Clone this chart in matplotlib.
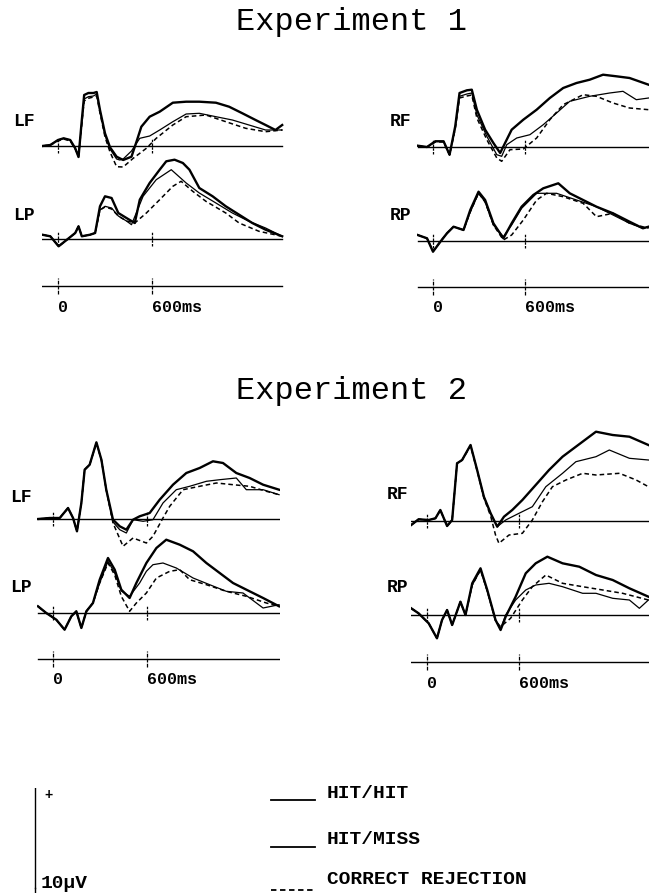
import matplotlib
matplotlib.use("Agg")
import matplotlib.pyplot as plt

# =====================================
# Data : ERP waveforms (time ms, amplitude uV)
# =====================================

# Experiment 1 - left frontal
e1_lf_hh = [(-101, 0.0), (-49, 0.1), (0, 0.6), (36, 0.77), (78, 0.6), (110, -0.23), (131, -1.1),
            (152, 2.6), (167, 5.1), (194, 5.3), (226, 5.3), (247, 5.4), (268, 3.6), (300, 1.27),
            (332, -0.13), (374, -1.07), (416, -1.4), (469, -1.07), (501, 0.43), (532, 1.93),
            (585, 2.93), (649, 3.43), (733, 4.33), (818, 4.43), (902, 4.43), (1008, 4.33),
            (1092, 3.93), (1177, 3.27), (1261, 2.6), (1325, 2.1), (1388, 1.6), (1431, 2.1)]
e1_lf_hm = [(-101, 0.0), (-49, 0.1), (0, 0.6), (36, 0.77), (78, 0.6), (110, -0.23), (131, -1.1),
            (152, 2.3), (167, 4.7), (194, 4.93), (226, 5.0), (247, 5.2), (268, 3.5), (300, 1.1),
            (332, -0.3), (374, -1.3), (394, -1.4), (416, -1.3), (469, -0.5), (480, -0.23),
            (522, 0.77), (585, 1.0), (649, 1.6), (733, 2.43), (818, 3.2), (902, 3.27),
            (1008, 2.93), (1113, 2.6), (1219, 2.1), (1325, 1.6), (1431, 1.6)]
e1_lf_cr = [(-101, 0.0), (-49, 0.1), (0, 0.5), (36, 0.7), (78, 0.5), (110, -0.3), (131, -1.0),
            (152, 2.2), (167, 4.5), (194, 4.77), (226, 4.9), (247, 5.0), (268, 3.3), (300, 0.9),
            (332, -0.6), (374, -2.07), (416, -2.1), (480, -1.23), (564, -0.23), (627, 0.77),
            (733, 2.1), (818, 2.93), (944, 3.1), (1071, 2.43), (1198, 1.77), (1325, 1.43),
            (1431, 1.6)]

# Experiment 1 - left parietal
e1_lp_hh = [(-101, 0.43), (-49, 0.27), (4, -0.73), (57, -0.07), (110, 0.6), (131, 1.27),
            (152, 0.27), (205, 0.43), (237, 0.6), (268, 3.27), (300, 4.27), (342, 4.1),
            (385, 2.6), (437, 2.1), (490, 1.6), (522, 3.93), (585, 5.6), (649, 6.93),
            (691, 7.77), (744, 7.93), (797, 7.6), (839, 6.93), (902, 5.1), (987, 4.27),
            (1071, 3.27), (1156, 2.43), (1240, 1.6), (1325, 0.93), (1431, 0.27)]
e1_lp_hm = [(-101, 0.43), (-49, 0.27), (4, -0.73), (57, -0.07), (110, 0.6), (131, 1.27),
            (152, 0.27), (205, 0.43), (237, 0.6), (268, 2.9), (300, 3.27), (342, 3.1),
            (385, 2.3), (437, 1.8), (469, 1.43), (543, 4.27), (627, 5.93), (723, 6.93),
            (818, 5.6), (902, 4.6), (1008, 3.6), (1113, 2.6), (1219, 1.77), (1325, 1.1),
            (1431, 0.27)]
e1_lp_cr = [(-101, 0.43), (-49, 0.27), (4, -0.73), (57, -0.07), (110, 0.6), (131, 1.27),
            (152, 0.27), (205, 0.43), (237, 0.6), (268, 2.9), (300, 3.2), (342, 3.0),
            (385, 2.3), (437, 1.8), (490, 1.6), (564, 2.6), (649, 3.93), (733, 5.27),
            (786, 5.77), (860, 4.77), (944, 3.77), (1071, 2.6), (1156, 1.6), (1283, 0.77),
            (1431, 0.27)]

# Experiment 1 - right frontal
e1_rf_hh = [(-100, 0.13), (-39, 0.0), (15, 0.57), (69, 0.57), (108, -0.77), (145, 2.07),
            (173, 5.4), (221, 5.67), (253, 5.73), (286, 3.73), (340, 1.73), (394, 0.4),
            (438, -0.6), (470, 0.4), (513, 1.73), (589, 2.73), (676, 3.73), (762, 4.9),
            (849, 5.9), (936, 6.4), (1022, 6.73), (1109, 7.23), (1196, 7.07), (1282, 6.9),
            (1406, 6.23)]
e1_rf_hm = [(-100, 0.13), (-39, 0.0), (15, 0.57), (69, 0.57), (108, -0.77), (145, 1.9),
            (173, 5.07), (221, 5.3), (253, 5.4), (286, 3.23), (351, 1.07), (416, -0.77),
            (448, -0.93), (481, 0.23), (546, 0.9), (632, 1.23), (719, 2.23), (806, 3.4),
            (892, 4.57), (1022, 5.07), (1152, 5.4), (1239, 5.57), (1326, 4.73), (1406, 4.9)]
e1_rf_cr = [(-100, 0.1), (-39, 0.0), (15, 0.5), (69, 0.5), (108, -0.8), (145, 1.8),
            (173, 4.9), (221, 5.1), (253, 5.2), (286, 2.9), (351, 0.73), (416, -1.1),
            (448, -1.43), (502, -0.27), (589, -0.2), (676, 0.9), (762, 2.73), (849, 4.23),
            (979, 5.23), (1066, 5.07), (1174, 4.4), (1282, 3.9), (1406, 3.73)]

# Experiment 1 - right parietal
e1_rp_hh = [(-100, 0.6), (-39, 0.27), (0, -1.07), (48, -0.07), (91, 0.77), (134, 1.43),
            (199, 1.1), (243, 3.1), (297, 4.93), (340, 4.1), (394, 1.77), (459, 0.27),
            (513, 1.77), (578, 3.43), (654, 4.6), (719, 5.27), (817, 5.77), (892, 4.77),
            (979, 4.1), (1066, 3.43), (1174, 2.77), (1282, 1.93), (1369, 1.27), (1406, 1.43)]
e1_rp_hm = [(-100, 0.6), (-39, 0.27), (0, -1.07), (48, -0.07), (91, 0.77), (134, 1.43),
            (199, 1.1), (243, 2.9), (297, 4.77), (340, 3.9), (394, 1.6), (459, 0.43),
            (513, 1.6), (578, 3.27), (676, 4.77), (806, 4.77), (936, 4.1), (1066, 3.43),
            (1174, 2.6), (1282, 1.77), (1369, 1.27), (1406, 1.43)]
e1_rp_cr = [(-100, 0.6), (-39, 0.27), (0, -1.0), (48, -0.07), (91, 0.77), (134, 1.43),
            (199, 1.1), (243, 2.9), (297, 4.8), (340, 3.9), (394, 1.6), (459, 0.1),
            (513, 0.6), (589, 2.1), (676, 4.1), (741, 4.77), (849, 4.43), (979, 3.77),
            (1066, 2.43), (1174, 2.77), (1282, 1.77), (1406, 1.27)]

# Experiment 2 - left frontal
e2_lf_hh = [(-96, 0.0), (-21, 0.1), (43, 0.1), (96, 1.1), (128, 0.1), (153, -1.23), (181, 1.6),
            (202, 4.93), (234, 5.43), (277, 7.67), (309, 5.93), (340, 2.93), (383, -0.07),
            (426, -0.73), (468, -1.07), (511, -0.07), (553, 0.27), (617, 0.6), (681, 1.93),
            (766, 3.43), (851, 4.6), (936, 5.1), (1021, 5.77), (1085, 5.6), (1170, 4.6),
            (1255, 4.1), (1341, 3.43), (1443, 2.93)]
e2_lf_hm = [(-96, 0.0), (-21, 0.1), (43, 0.1), (96, 1.1), (128, 0.1), (153, -1.23), (181, 1.6),
            (202, 4.93), (234, 5.43), (277, 7.6), (309, 5.9), (340, 2.9), (383, -0.3),
            (426, -1.07), (468, -1.4), (511, -0.07), (575, -0.23), (638, -0.07), (702, 1.6),
            (787, 2.93), (872, 3.27), (979, 3.77), (1064, 3.93), (1170, 4.1), (1234, 2.93),
            (1341, 2.93), (1443, 2.43)]
e2_lf_cr = [(-96, 0.0), (-21, 0.1), (43, 0.1), (96, 1.1), (128, 0.1), (153, -1.23), (181, 1.6),
            (202, 4.93), (234, 5.43), (277, 7.6), (309, 5.9), (340, 2.9), (383, -0.4),
            (447, -2.73), (511, -1.9), (596, -2.4), (638, -1.73), (702, 0.1), (745, 1.27),
            (830, 2.93), (936, 3.27), (1043, 3.6), (1149, 3.43), (1255, 3.27), (1362, 2.77),
            (1443, 2.43)]

# Experiment 2 - left parietal
e2_lp_hh = [(-96, 0.67), (-43, 0.0), (21, -0.67), (74, -1.67), (117, -0.33), (149, 0.17),
            (181, -1.5), (213, 0.17), (255, 1.0), (298, 3.33), (351, 5.5), (394, 4.33),
            (436, 2.33), (489, 1.5), (532, 3.0), (596, 5.0), (660, 6.5), (723, 7.33),
            (809, 6.83), (894, 6.17), (979, 5.0), (1064, 4.0), (1149, 3.0), (1255, 2.17),
            (1341, 1.5), (1443, 0.67)]
e2_lp_hm = [(-96, 0.67), (-43, 0.0), (21, -0.67), (74, -1.67), (117, -0.33), (149, 0.17),
            (181, -1.5), (213, 0.17), (255, 1.0), (298, 3.0), (351, 5.17), (394, 4.0),
            (436, 2.2), (489, 1.67), (553, 3.0), (596, 4.17), (638, 4.83), (702, 5.0),
            (787, 4.5), (894, 3.5), (1000, 2.83), (1106, 2.17), (1213, 2.0), (1341, 0.5),
            (1443, 0.83)]
e2_lp_cr = [(-96, 0.67), (-43, 0.0), (21, -0.67), (74, -1.67), (117, -0.33), (149, 0.17),
            (181, -1.5), (213, 0.17), (255, 1.0), (298, 3.0), (351, 5.0), (394, 3.8),
            (436, 1.67), (489, 0.17), (532, 1.0), (596, 2.0), (660, 3.5), (745, 4.17),
            (809, 4.33), (872, 3.33), (979, 2.83), (1106, 2.17), (1234, 1.67), (1362, 1.0),
            (1443, 0.67)]

# Experiment 2 - right frontal
e2_rf_hh = [(-103, -0.4), (-55, 0.17), (11, 0.1), (55, 0.27), (87, 1.1), (131, -0.5),
            (164, 0.1), (196, 5.77), (229, 6.1), (284, 7.6), (327, 5.1), (371, 2.43),
            (415, 0.77), (458, -0.57), (502, 0.43), (556, 1.1), (622, 2.1), (709, 3.6),
            (796, 5.1), (884, 6.43), (971, 7.43), (1102, 8.93), (1211, 8.6), (1320, 8.43),
            (1444, 7.6)]
e2_rf_hm = [(-103, -0.4), (-55, 0.17), (11, 0.1), (55, 0.27), (87, 1.1), (131, -0.5),
            (164, 0.1), (196, 5.77), (229, 6.1), (284, 7.6), (327, 5.1), (371, 2.43),
            (415, 0.77), (458, -0.57), (513, 0.1), (600, 0.77), (687, 1.43), (775, 3.43),
            (884, 4.77), (971, 5.93), (1102, 6.43), (1189, 7.1), (1320, 6.27), (1444, 6.1)]
e2_rf_cr = [(-103, -0.4), (-55, 0.17), (11, 0.1), (55, 0.27), (87, 1.1), (131, -0.5),
            (164, 0.1), (196, 5.77), (229, 6.1), (284, 7.5), (327, 5.0), (371, 2.3),
            (415, 0.5), (447, -1.4), (469, -2.23), (535, -1.4), (622, -1.23), (687, 0.1),
            (753, 1.93), (818, 3.43), (906, 4.1), (1015, 4.77), (1102, 4.6), (1255, 4.77),
            (1364, 4.1), (1444, 3.43)]

# Experiment 2 - right parietal
e2_rp_hh = [(-103, 0.67), (-55, 0.17), (11, -0.83), (65, -2.33), (98, -0.5), (131, 0.5),
            (164, -1.0), (218, 1.33), (251, 0.0), (295, 3.17), (349, 4.67), (393, 2.5),
            (447, -0.5), (480, -1.5), (513, -0.17), (578, 1.83), (644, 4.17), (709, 5.17),
            (785, 5.83), (884, 5.17), (993, 4.83), (1102, 4.0), (1211, 3.5), (1320, 2.67),
            (1444, 1.83)]
e2_rp_hm = [(-103, 0.67), (-55, 0.17), (11, -0.83), (65, -2.33), (98, -0.5), (131, 0.5),
            (164, -1.0), (218, 1.33), (251, 0.0), (295, 3.0), (349, 4.5), (393, 2.4),
            (447, -0.5), (480, -1.4), (513, 0.0), (578, 1.5), (644, 2.5), (709, 3.0),
            (796, 3.17), (884, 2.83), (1015, 2.17), (1102, 2.17), (1211, 1.67), (1320, 1.5),
            (1385, 0.67), (1444, 1.5)]
e2_rp_cr = [(-103, 0.67), (-55, 0.17), (11, -0.83), (65, -2.33), (98, -0.5), (131, 0.5),
            (164, -1.0), (218, 1.33), (251, 0.0), (295, 3.0), (349, 4.5), (393, 2.4),
            (447, -0.6), (480, -1.17), (545, -0.33), (622, 1.5), (687, 2.83), (775, 4.0),
            (884, 3.17), (1015, 2.83), (1146, 2.5), (1276, 2.17), (1444, 1.5)]

conditions = ["HIT/HIT", "HIT/MISS", "CORRECT REJECTION"]
time_ticks = [0, 600]
time_tick_labels = ["0", "600ms"]
scale_uv = 10

# =====================================
# Layout (figure pixels, top origin)
# =====================================

W, H = 649, 893
PX_UV = 10
T_MIN, T_MAX = -105, 1450

styles = [
    dict(color="black", lw=1.7, ls="-"),
    dict(color="black", lw=0.9, ls="-"),
    dict(color="black", lw=1.1, ls=(0, (3, 2))),
]

plt.rcParams["font.family"] = ["Liberation Mono", "DejaVu Sans Mono"]

fig = plt.figure(figsize=(W / 100, H / 100), dpi=100)
fig.patch.set_facecolor("white")


def fx(x):
    return x / W


def fy(y):
    return 1 - y / H


def panel_ax(t0_px, px_ms, base_px, lo=-4, hi=10):
    left = t0_px + T_MIN * px_ms
    width = (T_MAX - T_MIN) * px_ms
    bottom = H - (base_px - lo * PX_UV)
    height = (hi - lo) * PX_UV
    ax = fig.add_axes([left / W, bottom / H, width / W, height / H])
    ax.set_xlim(T_MIN, T_MAX)
    ax.set_ylim(lo, hi)
    ax.axis("off")
    ax.patch.set_alpha(0)
    return ax


def draw_channel(ax, traces):
    t_first = min(tr[0][0] for tr in traces)
    t_last = max(tr[-1][0] for tr in traces)
    ax.plot([t_first, t_last], [0, 0], color="black", lw=1.0)
    ax.vlines(time_ticks, -0.7, 0.7, color="black", lw=0.9, ls=(0, (2, 1)))
    for tr, st in zip(traces, styles):
        t = [p[0] for p in tr]
        v = [p[1] for p in tr]
        ax.plot(t, v, **st)


def draw_time_axis(ax, t_first, t_last):
    ax.plot([t_first, t_last], [0, 0], color="black", lw=1.0)
    ax.vlines(time_ticks, -0.8, 0.8, color="black", lw=0.9, ls=(0, (3, 1)))
    for t, lab in zip(time_ticks, time_tick_labels):
        ax.text(t, -2.1, lab, ha="left", va="center", fontsize=12, fontweight="bold")


blocks = [
    # t0 px, px per ms, upper base, lower base, time axis, labels, label x, label y's, data
    (58, 94 / 600, 146, 239, 286, ("LF", "LP"), 13, (122, 215), (e1_lf_hh, e1_lf_hm, e1_lf_cr), (e1_lp_hh, e1_lp_hm, e1_lp_cr)),
    (433, 92 / 600, 147, 241, 287, ("RF", "RP"), 390, (122, 215), (e1_rf_hh, e1_rf_hm, e1_rf_cr), (e1_rp_hh, e1_rp_hm, e1_rp_cr)),
    (53, 94 / 600, 519, 613, 659, ("LF", "LP"), 10, (498, 587), (e2_lf_hh, e2_lf_hm, e2_lf_cr), (e2_lp_hh, e2_lp_hm, e2_lp_cr)),
    (427, 92 / 600, 521, 615, 662, ("RF", "RP"), 387, (495, 588), (e2_rf_hh, e2_rf_hm, e2_rf_cr), (e2_rp_hh, e2_rp_hm, e2_rp_cr)),
]

# =====================================
# Waveform panels
# =====================================

for t0, pxms, b1, b2, bt, labs, lx, lys, top, bot in blocks:
    ax1 = panel_ax(t0, pxms, b1)
    draw_channel(ax1, top)
    ax2 = panel_ax(t0, pxms, b2)
    draw_channel(ax2, bot)
    ax3 = panel_ax(t0, pxms, bt)
    draw_time_axis(ax3, top[0][0][0], top[0][-1][0])
    for lab, ly in zip(labs, lys):
        fig.text(fx(lx), fy(ly), lab, ha="left", va="center", fontsize=13, fontweight="bold")

# =====================================
# Titles
# =====================================

fig.text(fx(352), fy(22), "Experiment 1", ha="center", va="center", fontsize=23)
fig.text(fx(352), fy(391), "Experiment 2", ha="center", va="center", fontsize=23)

# =====================================
# Scale bar
# =====================================

ax_sb = fig.add_axes([fx(30), 0, fx(10), (H - 788) / H])
ax_sb.set_ylim(scale_uv - (H - 788) / PX_UV, scale_uv)
ax_sb.set_xlim(0, 1)
ax_sb.axis("off")
ax_sb.plot([0.5, 0.5], [0, scale_uv], color="black", lw=1.0)
ax_sb.plot([0.5, 0.5], [-2, 0], color="black", lw=1.0)
fig.text(fx(44), fy(795), "+", ha="left", va="center", fontsize=10, fontweight="bold")
fig.text(fx(41), fy(883), "10\u03bcV", ha="left", va="center", fontsize=14, fontweight="bold")

# =====================================
# Legend
# =====================================

leg_rows = [(800, 793), (847, 840), (890, 880)]
for name, st, (ly, ty) in zip(conditions, styles, leg_rows):
    fig.add_artist(plt.Line2D([fx(271), fx(315)], [fy(ly), fy(ly)],
                              color="black", lw=1.3, ls=st["ls"]))
    fig.text(fx(327), fy(ty), name, ha="left", va="center", fontsize=14, fontweight="bold")

fig.savefig("out.png", dpi=100)
